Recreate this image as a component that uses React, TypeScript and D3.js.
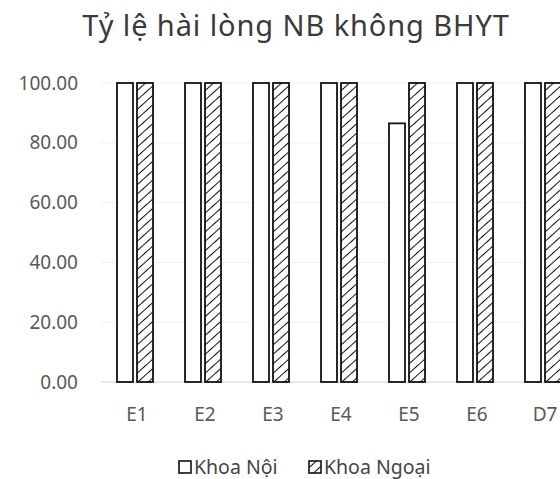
import React, { useEffect, useRef } from "react";
import * as d3 from "d3";

const categories = ["E1", "E2", "E3", "E4", "E5", "E6", "D7"];
const seriesNames = ["Khoa Nội", "Khoa Ngoại"];
const khoaNoi = [100, 100, 100, 100, 86.5, 100, 100];
const khoaNgoai = [100, 100, 100, 100, 100, 100, 100];
const yTicks = [0, 20, 40, 60, 80, 100];

const W = 560,
  H = 479;
const font = "'Noto Sans', 'Open Sans', sans-serif";

const App = () => {
  const svgRef = useRef<SVGSVGElement>(null);

  useEffect(() => {
    const svg = d3.select(svgRef.current);
    svg.selectAll("*").remove();

    const defs = svg.append("defs");
    const pat = defs
      .append("pattern")
      .attr("id", "hatch")
      .attr("patternUnits", "userSpaceOnUse")
      .attr("width", 7)
      .attr("height", 7)
      .attr("patternTransform", "rotate(48)");
    pat.append("rect").attr("width", 7).attr("height", 7).attr("fill", "#fff");
    pat
      .append("line")
      .attr("x1", 0)
      .attr("y1", 0)
      .attr("x2", 0)
      .attr("y2", 7)
      .attr("stroke", "#111")
      .attr("stroke-width", 2);

    svg
      .append("text")
      .attr("x", 296)
      .attr("y", 36)
      .attr("text-anchor", "middle")
      .style("font-family", font)
      .style("font-size", "29px")
      .style("letter-spacing", "0.9px")
      .attr("fill", "#3a3a3a")
      .text("Tỷ lệ hài lòng NB không BHYT");

    const x = d3.scaleBand().domain(categories).range([101, 577]).padding(0);
    const x1 = d3
      .scaleBand()
      .domain(seriesNames)
      .range([16, 52])
      .paddingInner(0.2)
      .paddingOuter(0);
    const y = d3.scaleLinear().domain([0, 100]).range([382, 83]);

    // gridlines, very faint
    svg
      .append("g")
      .selectAll("line")
      .data(yTicks)
      .enter()
      .append("line")
      .attr("x1", 101)
      .attr("x2", W)
      .attr("y1", d => y(d))
      .attr("y2", d => y(d))
      .attr("stroke", d => (d === 0 ? "#d0d0d0" : "#efefef"))
      .attr("stroke-width", 1);

    svg
      .append("g")
      .selectAll("text")
      .data(yTicks)
      .enter()
      .append("text")
      .attr("x", 78)
      .attr("y", d => y(d))
      .attr("dy", "0.35em")
      .attr("text-anchor", "end")
      .style("font-family", font)
      .style("font-size", "19px")
      .attr("fill", "#595959")
      .text(d => d3.format(".2f")(d));

    const rows = categories.map((c, i) => ({
      c,
      vals: [khoaNoi[i], khoaNgoai[i]]
    }));

    const g = svg
      .append("g")
      .selectAll("g")
      .data(rows)
      .enter()
      .append("g")
      .attr("transform", d => `translate(${x(d.c)},0)`);

    g.selectAll("rect")
      .data(d => d.vals.map((v, j) => ({ v, s: seriesNames[j], j })))
      .enter()
      .append("rect")
      .attr("x", d => x1(d.s)!)
      .attr("y", d => y(d.v))
      .attr("width", x1.bandwidth())
      .attr("height", d => y(0) - y(d.v))
      .attr("fill", d => (d.j === 0 ? "#fff" : "url(#hatch)"))
      .attr("stroke", "#111")
      .attr("stroke-width", 1.8);

    svg
      .append("g")
      .selectAll("text")
      .data(categories)
      .enter()
      .append("text")
      .attr("x", d => x(d)! + x.bandwidth() / 2 + 2)
      .attr("y", 421)
      .attr("text-anchor", "middle")
      .style("font-family", font)
      .style("font-size", "19px")
      .attr("fill", "#595959")
      .text(d => d);

    const legendX = [179, 309];
    const lg = svg
      .append("g")
      .selectAll("g")
      .data(seriesNames)
      .enter()
      .append("g")
      .attr("transform", (d, i) => `translate(${legendX[i]},467)`);
    lg.append("rect")
      .attr("x", 0)
      .attr("y", -6)
      .attr("width", 12)
      .attr("height", 12)
      .attr("fill", (d, i) => (i === 0 ? "#fff" : "url(#hatch)"))
      .attr("stroke", "#111")
      .attr("stroke-width", 1.6);
    lg.append("text")
      .attr("x", 15)
      .attr("y", 7)
      .style("font-family", font)
      .style("font-size", "19.5px")
      .attr("fill", "#454545")
      .text(d => d);
  }, []);

  return (
    <svg
      ref={svgRef}
      width={W}
      height={H}
      style={{ position: "absolute", left: 0, top: 0, background: "#fff" }}
    />
  );
};

export default App;
